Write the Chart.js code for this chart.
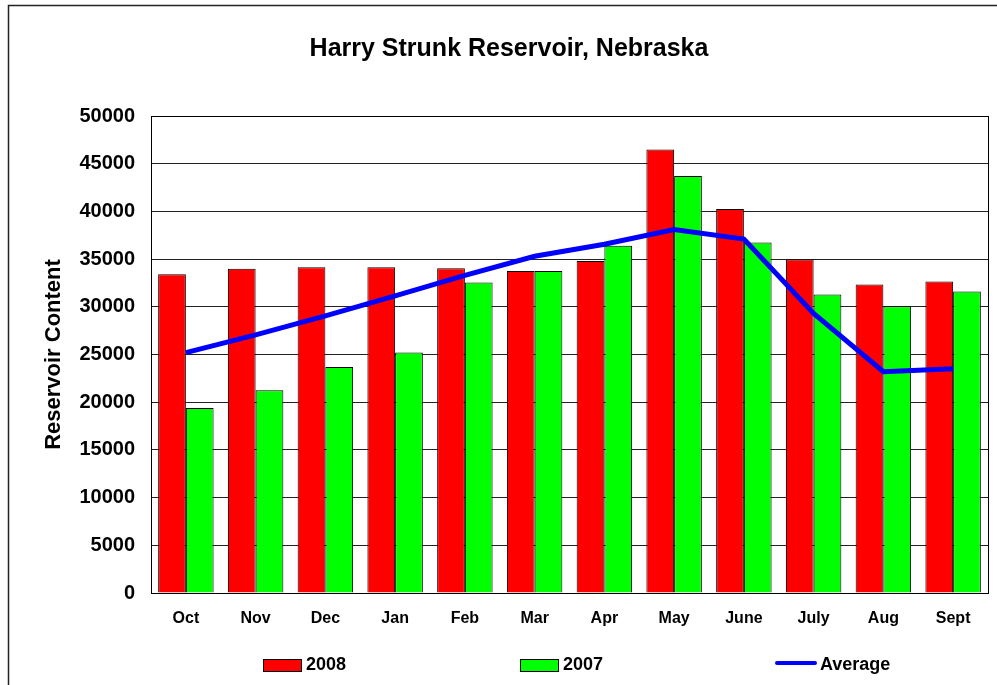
<!DOCTYPE html>
<html>
<head>
<meta charset="utf-8">
<script src="https://cdn.jsdelivr.net/npm/chart.js@4.4.0/dist/chart.umd.min.js"></script>
<style>
  body { margin: 0; background: #fff; }
  #canvasDiv { width: 997px; height: 685px; }
</style>
</head>
<body>
<div id="canvasDiv"><canvas id="myChart" width="997" height="685"></canvas></div>
<script>
let months = ["Oct", "Nov", "Dec", "Jan", "Feb", "Mar", "Apr", "May", "June", "July", "Aug", "Sept"];
let content2008 = [33400, 34000, 34150, 34150, 34050, 33750, 34800, 46500, 40250, 34950, 32350, 32650];
let content2007 = [19400, 21250, 23700, 25200, 32550, 33750, 36400, 43700, 36750, 31300, 30050, 31600];
let averageContent = [25200, 27050, 29050, 31150, 33300, 35300, 36550, 38100, 37100, 29300, 23200, 23500];
let seriesNames = ["2008", "2007", "Average"];
let yTicks = [0, 5000, 10000, 15000, 20000, 25000, 30000, 35000, 40000, 45000, 50000];

Chart.defaults.font.family = "'Liberation Sans', Arial, sans-serif";
Chart.defaults.color = "#000";

// frame round the whole picture and round the plot area
let framePlugin = {
    id: "frame",
    afterDraw(chart) {
        let ctx = chart.ctx;
        let area = chart.chartArea;
        ctx.save();
        ctx.strokeStyle = "#000";
        ctx.lineWidth = 1;
        ctx.strokeRect(Math.round(area.left) + 0.5, Math.round(area.top) + 0.5,
            Math.round(area.right - area.left), Math.round(area.bottom - area.top));
        ctx.strokeStyle = "#222";
        ctx.lineWidth = 1.5;
        ctx.beginPath();
        ctx.moveTo(8.5, 700);
        ctx.lineTo(8.5, 5.5);
        ctx.lineTo(1000, 5.5);
        ctx.stroke();
        ctx.restore();
    }
};

// legend spread out along the bottom
let legendPlugin = {
    id: "spreadLegend",
    afterDraw(chart) {
        let ctx = chart.ctx;
        let starts = [263, 520, 775];
        let y = 665;
        ctx.save();
        ctx.font = "bold 18px 'Liberation Sans', Arial, sans-serif";
        ctx.textBaseline = "middle";
        ctx.textAlign = "left";
        chart.data.datasets.forEach((ds, i) => {
            let x = starts[i];
            if (ds.type === "line") {
                ctx.strokeStyle = ds.borderColor;
                ctx.lineWidth = 4;
                ctx.lineCap = "round";
                ctx.beginPath();
                ctx.moveTo(x + 2, y - 2);
                ctx.lineTo(x + 40, y - 2);
                ctx.stroke();
                ctx.fillStyle = "#000";
                ctx.fillText(ds.label, x + 45, y);
            } else {
                ctx.fillStyle = ds.backgroundColor;
                ctx.fillRect(x, y - 6, 38, 12);
                ctx.strokeStyle = "#000";
                ctx.lineWidth = 1;
                ctx.strokeRect(x + 0.5, y - 5.5, 38, 12);
                ctx.fillStyle = "#000";
                ctx.fillText(ds.label, x + 43, y);
            }
        });
        ctx.restore();
    }
};

new Chart("myChart", {
    type: "bar",
    data: {
        labels: months,
        datasets: [{
            label: seriesNames[0],
            data: content2008,
            backgroundColor: "#ff0000",
            borderColor: "#000",
            borderWidth: 1,
            categoryPercentage: 0.795,
            barPercentage: 1.0,
            order: 1
        }, {
            label: seriesNames[1],
            data: content2007,
            backgroundColor: "#00ff00",
            borderColor: "#000",
            borderWidth: 1,
            categoryPercentage: 0.795,
            barPercentage: 1.0,
            order: 1
        }, {
            type: "line",
            label: seriesNames[2],
            data: averageContent,
            borderColor: "#0000ff",
            backgroundColor: "#0000ff",
            borderWidth: 5,
            pointRadius: 0,
            tension: 0,
            fill: false,
            order: 0
        }]
    },
    options: {
        responsive: false,
        animation: false,
        layout: { padding: { left: 30, right: 9, top: 0, bottom: 0 } },
        plugins: {
            legend: { display: false },
            tooltip: { enabled: false },
            title: {
                display: true,
                text: "Harry Strunk Reservoir, Nebraska",
                font: { size: 25, weight: "bold" },
                padding: { top: 34, bottom: 52 }
            }
        },
        scales: {
            x: {
                grid: { display: false, drawTicks: false },
                border: { display: true, color: "#000", width: 1 },
                ticks: { font: { size: 16, weight: "bold" }, padding: 16 },
                afterFit(scale) { scale.height = 92; }
            },
            y: {
                min: 0,
                max: 50000,
                afterBuildTicks(scale) { scale.ticks = yTicks.map(v => ({ value: v })); },
                grid: { color: "#222", lineWidth: 1, drawTicks: false },
                border: { display: true, color: "#000", width: 1 },
                ticks: {
                    font: { size: 20, weight: "bold" },
                    padding: 16,
                    callback: v => String(v)
                },
                title: {
                    display: true,
                    text: "Reservoir Content",
                    font: { size: 22, weight: "bold" },
                    padding: { top: 11, bottom: 0 }
                },
                afterFit(scale) { scale.width = 121; }
            }
        }
    },
    plugins: [framePlugin, legendPlugin]
});
</script>
</body>
</html>
